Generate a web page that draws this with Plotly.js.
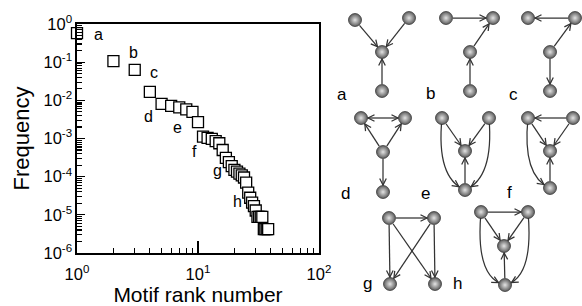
<!DOCTYPE html>
<html><head><meta charset="utf-8">
<script src="https://cdn.plot.ly/plotly-3.0.1.min.js"></script>
<style>html,body{margin:0;padding:0;background:#fff}</style>
</head><body><div id="chart" style="width:582px;height:306px"></div>
<script>
// ---- scatter data (rank vs frequency) ----
const ranks = [1,2,3,4,5,6,7,8,9,10,11,12,13,14,15,16,17,18,19,20,21,22,23,24,25,26,27,28,29,30,31,32,33,34,35,36,37,38];
const frequency = [0.58,0.107,0.063,0.0166,0.0081,0.0072,0.0065,0.0058,0.0050,0.0027,
  0.00112,0.00104,0.00098,0.00085,0.00075,0.0005,0.00031,0.00024,0.00019,0.00015,
  0.000135,0.00012,0.000108,0.000095,0.00007,0.000038,0.000028,0.000021,0.000017,0.000013,
  0.0000088,0.0000088,0.0000088,0.0000088,0.0000042,0.0000042,0.0000042,0.0000042];
const xTickVals = [1,10,100];
const xTickText = ['10<sup>0</sup>','10<sup>1</sup>','10<sup>2</sup>'];
const yTickVals = [1e-6,1e-5,1e-4,1e-3,1e-2,1e-1,1];
const yTickText = ['10<sup>-6</sup>','10<sup>-5</sup>','10<sup>-4</sup>','10<sup>-3</sup>','10<sup>-2</sup>','10<sup>-1</sup>','10<sup>0</sup>'];
const pointLabels = ['a','b','c','d','e','f','g','h'];
const pointLabelX = [98.5,133,154,148,177,194,217,237];
const pointLabelY = [34,52,72,116,127,151,170,201];

// ---- motif diagrams (layout positions in page px) ----
const motifLabels = ['a','b','c','d','e','f','g','h'];
const motifLabelX = [342,430,513,345,425,509,367,457];
const motifLabelY = [94,93,94,193,193,192,283,283];
const nodesA = [[355,20],[409,18],[382,52],[382,91]];
const nodesB = [[446,18],[493,18],[470,52],[470,91]];
const nodesC = [[528,18],[575,18],[550,52],[550,91]];
const nodesD = [[361,118],[405,118],[383,152],[383,192]];
const nodesE = [[442,118],[489,118],[465,151],[465,190]];
const nodesF = [[528,118],[573,118],[550,151],[550,188]];
const nodesG = [[389,218],[434,218],[390,284],[435,284]];
const nodesH = [[481,212],[528,212],[504,246],[505,285]];
const edgesA = [[0,2],[1,2],[3,2]];
const edgesB = [[0,1],[2,1],[3,2]];
const edgesC = [[1,0],[2,1],[2,3]];
const edgesD = [[2,0],[2,1],[2,3]];
const mutualD = [[0,1]];
const edgesE = [[0,2],[1,2],[3,2]];
const curvesE = [[0,3,436,178],[1,3,494,178]];
const edgesF = [[1,0],[0,2],[1,2],[3,2]];
const curvesF = [[0,3,522,176]];
const edgesG = [[0,1],[0,2],[0,3],[1,2],[1,3]];
const edgesH = [[0,1],[0,2],[1,2],[3,2]];
const curvesH = [[0,3,475,278],[1,3,534,278]];

const motifs = [
  {nodes:nodesA, edges:edgesA, mutual:[], curves:[]},
  {nodes:nodesB, edges:edgesB, mutual:[], curves:[]},
  {nodes:nodesC, edges:edgesC, mutual:[], curves:[]},
  {nodes:nodesD, edges:edgesD, mutual:mutualD, curves:[]},
  {nodes:nodesE, edges:edgesE, mutual:[], curves:curvesE},
  {nodes:nodesF, edges:edgesF, mutual:[], curves:curvesF},
  {nodes:nodesG, edges:edgesG, mutual:[], curves:[]},
  {nodes:nodesH, edges:edgesH, mutual:[], curves:curvesH}
];

const FONT = 'Liberation Sans, Arial, Helvetica, sans-serif';
const EDGE = '#333333';
const R = 7;       // node radius (stand-off)
const HL = 6.5;    // arrowhead length
const HW = 3.3;    // arrowhead half width

const annotations = [];
const shapes = [];
const nodeX = [], nodeY = [];

function chevron(hx, hy, ux, uy) {
  const nx = -uy, ny = ux;
  const bx = hx - ux*HL, by = hy - uy*HL;
  return 'M ' + (bx + nx*HW) + ',' + (by + ny*HW) + ' L ' + hx + ',' + hy + ' L ' + (bx - nx*HW) + ',' + (by - ny*HW);
}
function pushPath(p) {
  shapes.push({type: 'path', xref: 'x2', yref: 'y2', layer: 'below', path: p,
               line: {color: EDGE, width: 1.25}});
}
function straight(a, b, both) {
  const dx = b[0]-a[0], dy = b[1]-a[1], L = Math.hypot(dx, dy);
  const ux = dx/L, uy = dy/L;
  const s = [a[0]+ux*R, a[1]+uy*R], e = [b[0]-ux*R, b[1]-uy*R];
  pushPath('M ' + s[0] + ',' + s[1] + ' L ' + e[0] + ',' + e[1]);
  pushPath(chevron(e[0], e[1], ux, uy));
  if (both) pushPath(chevron(s[0], s[1], -ux, -uy));
}

motifs.forEach(m => {
  m.nodes.forEach(p => { nodeX.push(p[0]); nodeY.push(p[1]); });
  m.edges.forEach(e => straight(m.nodes[e[0]], m.nodes[e[1]], false));
  m.mutual.forEach(e => straight(m.nodes[e[0]], m.nodes[e[1]], true));
  m.curves.forEach(c => {
    const p0 = m.nodes[c[0]], p1 = m.nodes[c[1]], cx = c[2], cy = c[3];
    pushPath('M ' + p0[0] + ',' + p0[1] + ' Q ' + cx + ',' + cy + ' ' + p1[0] + ',' + p1[1]);
    const B = t => [(1-t)*(1-t)*p0[0] + 2*(1-t)*t*cx + t*t*p1[0], (1-t)*(1-t)*p0[1] + 2*(1-t)*t*cy + t*t*p1[1]];
    let lo = 0.5, hi = 1;
    for (let i = 0; i < 40; i++) {
      const mid = (lo + hi) / 2, q = B(mid);
      if (Math.hypot(q[0]-p1[0], q[1]-p1[1]) > R) lo = mid; else hi = mid;
    }
    const t = lo, head = B(t);
    const dx = 2*(1-t)*(cx-p0[0]) + 2*t*(p1[0]-cx), dy = 2*(1-t)*(cy-p0[1]) + 2*t*(p1[1]-cy);
    const L = Math.hypot(dx, dy);
    pushPath(chevron(head[0], head[1], dx/L, dy/L));
  });
});

motifLabels.forEach((t, i) => annotations.push({
  x: motifLabelX[i], y: motifLabelY[i], xref: 'x2', yref: 'y2', text: t, showarrow: false,
  font: {family: FONT, size: 17, color: '#000'}
}));
pointLabels.forEach((t, i) => annotations.push({
  x: pointLabelX[i], y: pointLabelY[i], xref: 'x2', yref: 'y2', text: t, showarrow: false,
  font: {family: FONT, size: 16, color: '#000'}
}));

const xMinor = [], yMinor = [];
[1,10].forEach(d => { for (let k = 2; k <= 9; k++) xMinor.push(k*d); });
for (let e = -6; e < 0; e++) { for (let k = 2; k <= 9; k++) yMinor.push(k*Math.pow(10, e)); }

const traces = [
  {x: ranks, y: frequency, type: 'scatter', mode: 'markers', xaxis: 'x', yaxis: 'y',
   cliponaxis: false, hoverinfo: 'x+y',
   marker: {symbol: 'square', size: 11, color: '#fff', line: {color: '#000', width: 1.3}}},
  {x: nodeX, y: nodeY, type: 'scatter', mode: 'markers', xaxis: 'x2', yaxis: 'y2',
   cliponaxis: false, hoverinfo: 'skip',
   marker: {size: 13, color: '#5a5a5a', gradient: {type: 'radial', color: '#e4e4e4'},
            line: {color: '#2a2a2a', width: 0.7}}}
];

const axisCommon = {
  showline: true, linewidth: 1.6, linecolor: '#000', mirror: true, showgrid: false, zeroline: false,
  ticks: 'inside', tickcolor: '#000', tickwidth: 1.3, automargin: false,
  tickfont: {family: FONT, size: 16.5, color: '#000'}, fixedrange: true
};

const layout = {
  width: 582, height: 306, margin: {l: 0, r: 0, t: 0, b: 0},
  paper_bgcolor: '#fff', plot_bgcolor: 'rgba(0,0,0,0)', showlegend: false,
  font: {family: FONT, color: '#000'},
  xaxis: Object.assign({}, axisCommon, {
    type: 'log', range: [0, 2], domain: [77/582, 319/582], anchor: 'y',
    tickmode: 'array', tickvals: xTickVals, ticktext: xTickText, ticklen: 12,
    ticklabelstandoff: 6,
    minor: {tickmode: 'array', tickvals: xMinor, ticks: 'inside', ticklen: 5, tickwidth: 1.1, tickcolor: '#000', showgrid: false},
    title: {text: 'Motif rank number', font: {family: FONT, size: 21, color: '#000'}, standoff: 3}
  }),
  yaxis: Object.assign({}, axisCommon, {
    type: 'log', range: [-6, 0], domain: [53/306, 282/306], anchor: 'x',
    tickmode: 'array', tickvals: yTickVals, ticktext: yTickText, ticklen: 8,
    minor: {tickmode: 'array', tickvals: yMinor, ticks: 'inside', ticklen: 5, tickwidth: 1.1, tickcolor: '#000', showgrid: false},
    title: {text: 'Frequency', font: {family: FONT, size: 22, color: '#000'}, standoff: 8}
  }),
  xaxis2: {domain: [0, 1], range: [0, 582], visible: false, anchor: 'y2', fixedrange: true},
  yaxis2: {domain: [0, 1], range: [306, 0], visible: false, anchor: 'x2', fixedrange: true},
  annotations: annotations,
  shapes: shapes
};

Plotly.newPlot('chart', traces, layout, {displayModeBar: false, staticPlot: true});
</script>
</body></html>
